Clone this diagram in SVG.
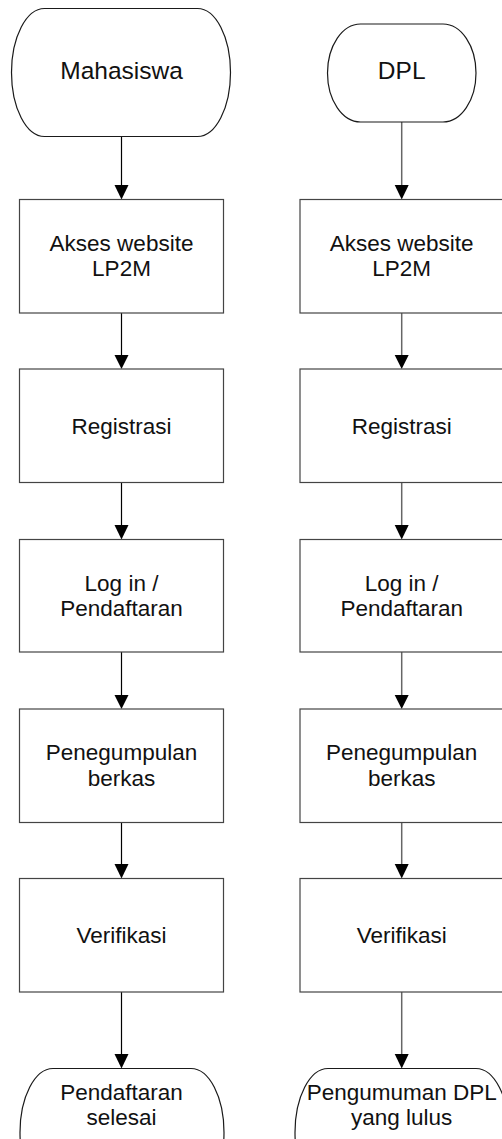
<svg xmlns="http://www.w3.org/2000/svg" width="502" height="1139" viewBox="0 0 502 1139">
<style>
.term{fill:#fff;stroke:#1a1a1a;stroke-width:1.2}
.box{fill:#fff;stroke:#444;stroke-width:1.2}
.t{font-family:"Liberation Sans",Arial,sans-serif;font-size:22.5px;fill:#111;text-anchor:middle}
.tl{font-size:24.5px}
.cl{stroke:#000;stroke-width:1.2;fill:none}
.cr{stroke:#666;stroke-width:1.5;fill:none}
.ah{fill:#000}
</style>
<rect width="502" height="1139" fill="#fff"/>
<g id="connectors">
<line class="cl" x1="121.5" y1="137" x2="121.5" y2="186"/><polygon class="ah" points="114.5,185 128.5,185 121.5,199.5"/>
<line class="cl" x1="121.5" y1="313" x2="121.5" y2="356"/><polygon class="ah" points="114.5,355 128.5,355 121.5,369"/>
<line class="cl" x1="121.5" y1="482.5" x2="121.5" y2="526"/><polygon class="ah" points="114.5,525 128.5,525 121.5,539.5"/>
<line class="cl" x1="121.5" y1="652" x2="121.5" y2="696"/><polygon class="ah" points="114.5,695 128.5,695 121.5,709"/>
<line class="cl" x1="121.5" y1="822.5" x2="121.5" y2="865"/><polygon class="ah" points="114.5,864 128.5,864 121.5,878.5"/>
<line class="cl" x1="121.5" y1="992" x2="121.5" y2="1055"/><polygon class="ah" points="114.5,1054 128.5,1054 121.5,1068.5"/>
<line class="cr" x1="401.7" y1="122" x2="401.7" y2="186"/><polygon class="ah" points="394.7,185 408.7,185 401.7,199.5"/>
<line class="cr" x1="401.7" y1="313" x2="401.7" y2="356"/><polygon class="ah" points="394.7,355 408.7,355 401.7,369"/>
<line class="cr" x1="401.7" y1="482.5" x2="401.7" y2="526"/><polygon class="ah" points="394.7,525 408.7,525 401.7,539.5"/>
<line class="cr" x1="401.7" y1="652" x2="401.7" y2="696"/><polygon class="ah" points="394.7,695 408.7,695 401.7,709"/>
<line class="cr" x1="401.7" y1="822.5" x2="401.7" y2="865"/><polygon class="ah" points="394.7,864 408.7,864 401.7,878.5"/>
<line class="cr" x1="401.7" y1="992" x2="401.7" y2="1055"/><polygon class="ah" points="394.7,1054 408.7,1054 401.7,1068.5"/>
</g>
<g id="mahasiswa"><rect class="term" x="11.5" y="8.5" width="219" height="128" rx="33" ry="64"/><text class="t tl" x="121.5" y="79">Mahasiswa</text></g>
<g id="l-akses"><rect class="box" x="19.5" y="199.5" width="204" height="113.5"/><text class="t" x="121.5" y="250.7">Akses website</text><text class="t" x="121.5" y="276">LP2M</text></g>
<g id="l-registrasi"><rect class="box" x="19.5" y="369" width="204" height="113.5"/><text class="t" x="121.5" y="433.5">Registrasi</text></g>
<g id="l-login"><rect class="box" x="19.5" y="539.5" width="204" height="112.5"/><text class="t" x="121.5" y="590.7">Log in /</text><text class="t" x="121.5" y="616">Pendaftaran</text></g>
<g id="l-berkas"><rect class="box" x="19.5" y="709" width="204" height="113.5"/><text class="t" x="121.5" y="760">Penegumpulan</text><text class="t" x="121.5" y="785.7">berkas</text></g>
<g id="l-verifikasi"><rect class="box" x="19.5" y="878.5" width="204" height="113.5"/><text class="t" x="121.5" y="943">Verifikasi</text></g>
<g id="l-selesai"><rect class="term" x="20" y="1068.5" width="204" height="128" rx="33" ry="64"/><text class="t" x="121.5" y="1100">Pendaftaran</text><text class="t" x="121.5" y="1125">selesai</text></g>
<g id="dpl"><rect class="term" x="327.5" y="24" width="148.5" height="98" rx="33" ry="49"/><text class="t tl" x="401.7" y="79">DPL</text></g>
<g id="r-akses"><rect class="box" x="300" y="199.5" width="204" height="113.5"/><text class="t" x="401.7" y="250.7">Akses website</text><text class="t" x="401.7" y="276">LP2M</text></g>
<g id="r-registrasi"><rect class="box" x="300" y="369" width="204" height="113.5"/><text class="t" x="401.7" y="433.5">Registrasi</text></g>
<g id="r-login"><rect class="box" x="300" y="539.5" width="204" height="112.5"/><text class="t" x="401.7" y="590.7">Log in /</text><text class="t" x="401.7" y="616">Pendaftaran</text></g>
<g id="r-berkas"><rect class="box" x="300" y="709" width="204" height="113.5"/><text class="t" x="401.7" y="760">Penegumpulan</text><text class="t" x="401.7" y="785.7">berkas</text></g>
<g id="r-verifikasi"><rect class="box" x="300" y="878.5" width="204" height="113.5"/><text class="t" x="401.7" y="943">Verifikasi</text></g>
<g id="r-pengumuman"><rect class="term" x="295" y="1068.5" width="214" height="128" rx="33" ry="64"/><text class="t" x="401.7" y="1100">Pengumuman DPL</text><text class="t" x="401.7" y="1125">yang lulus</text></g>
</svg>
